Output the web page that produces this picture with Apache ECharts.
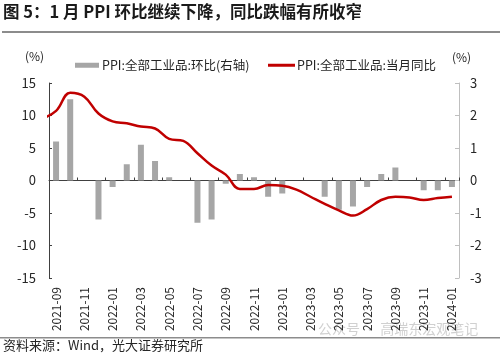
<!DOCTYPE html>
<html><head><meta charset="utf-8">
<script src="https://cdn.jsdelivr.net/npm/echarts@6/dist/echarts.min.js"></script>
<style>html,body{margin:0;padding:0;background:#fff}#c{width:500px;height:355px}</style>
</head><body><div id="c"></div>
<script>
const months = ['2021-09','2021-10','2021-11','2021-12','2022-01','2022-02','2022-03','2022-04','2022-05','2022-06','2022-07','2022-08','2022-09','2022-10','2022-11','2022-12','2023-01','2023-02','2023-03','2023-04','2023-05','2023-06','2023-07','2023-08','2023-09','2023-10','2023-11','2023-12','2024-01'];
const momValues = [1.2,2.5,0.0,-1.2,-0.2,0.5,1.1,0.6,0.1,0.0,-1.3,-1.2,-0.1,0.2,0.1,-0.5,-0.4,0.0,0.0,-0.5,-0.9,-0.8,-0.2,0.2,0.4,0.0,-0.3,-0.3,-0.2];
const yoyValues = [10.7,13.5,12.9,10.3,9.1,8.8,8.3,8.0,6.4,6.1,4.2,2.3,0.9,-1.3,-1.3,-0.7,-0.8,-1.4,-2.5,-3.6,-4.6,-5.4,-4.4,-3.0,-2.5,-2.6,-3.0,-2.7,-2.5];
const yoyPrevMonth = 9.5; // 2021-08, clipped at the left edge
const leftTicks = {min:-15, max:15, interval:5};
const rightTicks = {min:-3, max:3, interval:1};
const barName = 'PPI:全部工业品:环比(右轴)';
const lineName = 'PPI:全部工业品:当月同比';
const titleText = '图 5：1 月 PPI 环比继续下降，同比跌幅有所收窄';
const sourceText = '资料来源：Wind，光大证券研究所';
const watermarkText = '公众号 · 高瑞东宏观笔记';

const FONT = '"Noto Sans CJK SC", "Noto Sans", sans-serif';
const TXT = '#262626';
const lineData = [[-1, yoyPrevMonth]].concat(yoyValues.map((v,i)=>[i,v]));

const chart = echarts.init(document.getElementById('c'), null, {renderer:'canvas'});
chart.setOption({
  animation:false,
  textStyle:{fontFamily:FONT},
  grid:{left:49, right:41, top:83, height:195, containLabel:false},
  legend:[
    {data:[{name:barName, icon:'rect'}], left:70, top:54, itemWidth:24, itemHeight:5, itemGap:3,
     textStyle:{color:TXT, fontSize:12.5, fontFamily:FONT, padding:[0,0,0,-2]}},
    {data:[{name:lineName, icon:'rect'}], left:263, top:54, itemWidth:27, itemHeight:3,
     textStyle:{color:TXT, fontSize:12.5, fontFamily:FONT, padding:[0,0,0,-3]}}
  ],
  xAxis:[
    {type:'category', data:months, position:'bottom', gridIndex:0,
     axisLine:{show:false, onZero:false}, axisTick:{show:false},
     axisLabel:{rotate:90, interval:1, fontSize:12, color:TXT, margin:9, fontFamily:FONT}},
    {type:'category', data:months, position:'bottom', gridIndex:0,
     axisLine:{show:true, onZero:true, onZeroAxisIndex:0, lineStyle:{color:'#404040', width:1}},
     axisTick:{show:true, inside:true, interval:1, length:3, lineStyle:{color:'#404040'}},
     axisLabel:{show:false}},
    {type:'value', min:-0.5, max:28.5, show:false, gridIndex:0,
     axisLine:{show:false, onZero:false}, splitLine:{show:false}}
  ],
  yAxis:[
    {type:'value', position:'left', min:leftTicks.min, max:leftTicks.max, interval:leftTicks.interval,
     axisLine:{show:true, onZero:false, lineStyle:{color:'#404040'}},
     axisTick:{show:true, inside:true, length:3, lineStyle:{color:'#404040'}},
     splitLine:{show:false},
     axisLabel:{fontSize:13, color:TXT, margin:13, fontFamily:FONT}},
    {type:'value', position:'right', min:rightTicks.min, max:rightTicks.max, interval:rightTicks.interval,
     axisLine:{show:true, onZero:false, lineStyle:{color:'#bfbfbf'}},
     axisTick:{show:true, inside:true, length:4, lineStyle:{color:'#bfbfbf'}},
     splitLine:{show:false},
     axisLabel:{fontSize:13, color:TXT, margin:11, fontFamily:FONT}}
  ],
  series:[
    {name:barName, type:'bar', xAxisIndex:0, yAxisIndex:1, data:momValues, barWidth:6,
     itemStyle:{color:'#a6a6a6'}},
    {name:lineName, type:'line', xAxisIndex:2, yAxisIndex:0, data:lineData, smooth:0.4,
     showSymbol:false, symbol:'none', clip:true,
     lineStyle:{color:'#c00000', width:2.5}, itemStyle:{color:'#c00000'}}
  ],
  graphic:[
    {type:'text', left:3, top:3, style:{text:titleText, font:'bold 16.5px "Noto Sans CJK SC"', fill:'#1a1a1a'}},
    {type:'rect', shape:{x:2, y:31, width:498, height:2}, style:{fill:'#8c8c8c'}},
    {type:'text', left:25, top:50, style:{text:'(%)', font:'12px "Noto Sans CJK SC"', fill:TXT}},
    {type:'text', left:452, top:51, style:{text:'(%)', font:'12px "Noto Sans CJK SC"', fill:TXT}},
    {type:'text', left:318, top:322, style:{text:watermarkText, font:'14px "Noto Sans CJK SC"', fill:'rgba(170,170,170,0.55)'}},
    {type:'rect', shape:{x:0, y:337, width:500, height:1.5}, style:{fill:'#8c8c8c'}},
    {type:'text', left:3, top:339, style:{text:sourceText, font:'13px "Noto Sans CJK SC"', fill:TXT}}
  ]
});
</script></body></html>
